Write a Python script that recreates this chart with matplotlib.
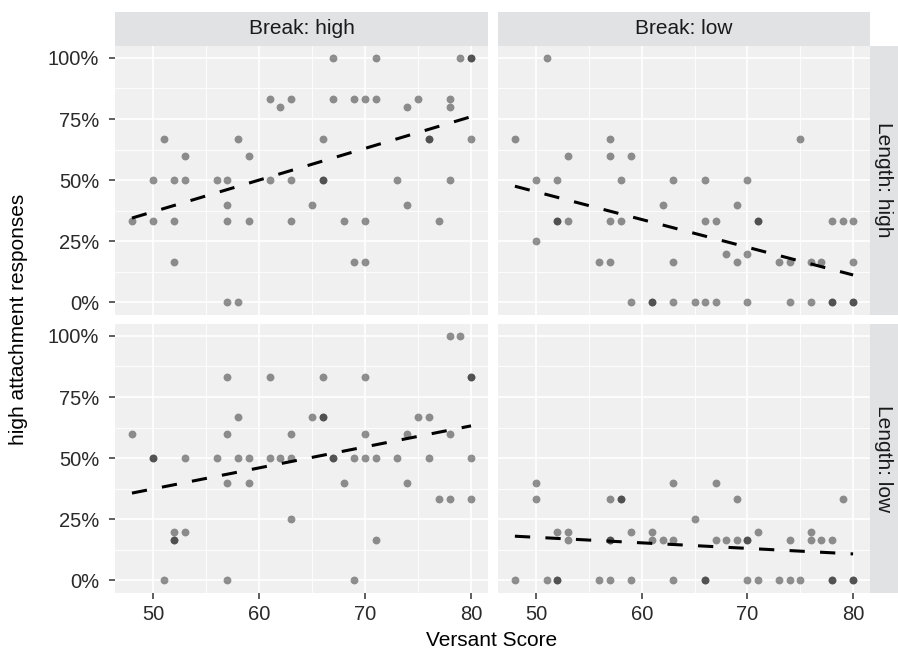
import numpy as np
import matplotlib.pyplot as plt

plt.rcParams['font.family'] = ['Liberation Sans', 'DejaVu Sans']

# Versant score (x) and share of high attachment responses in % (y), per facet
x_high_high = [48, 50, 50, 51, 52, 52, 52, 53, 53, 56, 57, 57, 57, 57, 58, 58, 59, 59,
               61, 61, 62, 63, 63, 63, 65, 66, 66, 66, 67, 67, 68, 69, 69, 70, 70, 70,
               71, 71, 73, 74, 74, 75, 76, 76, 77, 78, 78, 78, 79, 80, 80, 80]
y_high_high = [33.3, 50, 33.3, 66.7, 50, 33.3, 16.7, 60, 50, 50, 50, 40, 33.3, 0, 66.7, 0, 60, 33.3,
               83.3, 50, 80, 83.3, 50, 33.3, 40, 66.7, 50, 50, 100, 83.3, 33.3, 83.3, 16.7, 83.3, 33.3, 16.7,
               100, 83.3, 50, 80, 40, 83.3, 66.7, 66.7, 33.3, 83.3, 80, 50, 100, 100, 100, 66.7]

x_low_high = [48, 50, 50, 51, 52, 52, 52, 53, 53, 56, 57, 57, 57, 57, 58, 58, 59, 59,
              61, 61, 62, 63, 63, 63, 65, 66, 66, 66, 67, 67, 68, 69, 69, 70, 70, 70,
              71, 71, 73, 74, 74, 75, 76, 76, 77, 78, 78, 78, 79, 80, 80, 80, 80]
y_low_high = [66.7, 50, 25, 100, 50, 33.3, 33.3, 60, 33.3, 16.7, 66.7, 60, 33.3, 16.7, 50, 33.3, 60, 0,
              0, 0, 40, 50, 16.7, 0, 0, 50, 33.3, 0, 33.3, 0, 20, 40, 16.7, 50, 20, 0,
              33.3, 33.3, 16.7, 16.7, 0, 66.7, 16.7, 0, 16.7, 33.3, 0, 0, 33.3, 33.3, 16.7, 0, 0]

x_high_low = [48, 50, 50, 51, 52, 52, 52, 53, 53, 56, 57, 57, 57, 57, 58, 58, 59, 59,
              61, 61, 62, 63, 63, 63, 65, 66, 66, 66, 67, 67, 68, 69, 69, 70, 70, 70,
              71, 71, 73, 74, 74, 75, 76, 76, 77, 78, 78, 78, 79, 80, 80, 80, 80]
y_high_low = [60, 50, 50, 0, 20, 16.7, 16.7, 20, 50, 50, 83.3, 60, 40, 0, 66.7, 50, 50, 40,
              83.3, 50, 50, 60, 50, 25, 66.7, 83.3, 66.7, 66.7, 50, 50, 40, 50, 0, 83.3, 60, 50,
              50, 16.7, 50, 60, 40, 66.7, 66.7, 50, 33.3, 100, 60, 33.3, 100, 83.3, 83.3, 50, 33.3]

x_low_low = [48, 50, 50, 51, 52, 52, 52, 53, 53, 56, 57, 57, 57, 57, 58, 58, 59, 59,
             61, 61, 62, 63, 63, 63, 65, 66, 66, 67, 67, 68, 69, 69, 70, 70, 70,
             71, 71, 73, 74, 74, 75, 76, 76, 77, 78, 78, 78, 79, 80, 80]
y_low_low = [0, 40, 33.3, 0, 20, 0, 0, 20, 16.7, 0, 33.3, 16.7, 16.7, 0, 33.3, 33.3, 20, 0,
             20, 16.7, 16.7, 40, 16.7, 0, 25, 0, 0, 40, 16.7, 16.7, 33.3, 16.7, 16.7, 16.7, 0,
             20, 0, 0, 16.7, 0, 0, 20, 16.7, 16.7, 16.7, 0, 0, 33.3, 0, 0]

col_labels = ['Break: high', 'Break: low']
row_labels = ['Length: high', 'Length: low']
facets = [[(x_high_high, y_high_high), (x_low_high, y_low_high)],
          [(x_high_low, y_high_low), (x_low_low, y_low_low)]]

x_ticks = [50, 60, 70, 80]
y_ticks = [0, 25, 50, 75, 100]
y_ticklabels = ['0%', '25%', '50%', '75%', '100%']

W, H = 898, 650
fig = plt.figure(figsize=(W / 100, H / 100), dpi=100)


def px_axes(x0, y0, x1, y1):
    return fig.add_axes([x0 / W, 1 - y1 / H, (x1 - x0) / W, (y1 - y0) / H])


cols = [(115, 488), (498, 870)]
rows = [(45.7, 314.7), (323.7, 592.7)]

for i, (y0, y1) in enumerate(rows):
    for j, (x0, x1) in enumerate(cols):
        ax = px_axes(x0, y0, x1, y1)
        ax.set_facecolor('#F0F0F0')
        for s in ax.spines.values():
            s.set_visible(False)
        ax.set_xlim(46.4, 81.6)
        ax.set_ylim(-5, 105)
        ax.set_xticks(x_ticks)
        ax.set_xticks([55, 65, 75], minor=True)
        ax.set_yticks(y_ticks)
        ax.set_yticks([12.5, 37.5, 62.5, 87.5], minor=True)
        ax.grid(which='major', color='white', linewidth=1.2)
        ax.grid(which='minor', color='white', linewidth=0.6)
        ax.set_axisbelow(True)
        ax.tick_params(which='minor', length=0)
        ax.tick_params(which='major', length=4.5, width=1.1, color='#333333',
                       labelsize=14.5, labelcolor='#2A2A2A')
        ax.tick_params(axis='x', pad=4.5)
        ax.tick_params(axis='y', pad=7)
        if i == 1:
            ax.set_xticklabels([str(t) for t in x_ticks])
        else:
            ax.tick_params(axis='x', length=0, labelbottom=False)
        if j == 0:
            ax.set_yticklabels(y_ticklabels)
        else:
            ax.tick_params(axis='y', length=0, labelleft=False)

        xs, ys = facets[i][j]
        ax.scatter(xs, ys, s=32, color='black', alpha=0.42, linewidths=0, zorder=2)
        k, b = np.polyfit(xs, ys, 1)
        xl = np.array([min(xs), max(xs)])
        ax.plot(xl, k * xl + b, color='black', linewidth=2.2,
                linestyle=(0, (5, 5)), zorder=3)

# strips
for j, (x0, x1) in enumerate(cols):
    sax = px_axes(x0, 12, x1, 45.7)
    sax.set_facecolor('#E1E2E4')
    sax.set_xticks([])
    sax.set_yticks([])
    for s in sax.spines.values():
        s.set_visible(False)
    sax.text(0.5, 0.5, col_labels[j], ha='center', va='center', fontsize=15,
             color='#1A1A1A', transform=sax.transAxes)

for i, (y0, y1) in enumerate(rows):
    sax = px_axes(870, y0, 898, y1)
    sax.set_facecolor('#E1E2E4')
    sax.set_xticks([])
    sax.set_yticks([])
    for s in sax.spines.values():
        s.set_visible(False)
    sax.text(0.5, 0.5, row_labels[i], ha='center', va='center', fontsize=15,
             color='#1A1A1A', rotation=270, transform=sax.transAxes)

fig.text(492 / W, 1 - 640 / H, 'Versant Score', ha='center', va='center', fontsize=15)
fig.text(19 / W, 1 - 319 / H, 'high attachment responses', ha='center', va='center',
         fontsize=15, rotation=90)

fig.savefig('out.png', dpi=100)
